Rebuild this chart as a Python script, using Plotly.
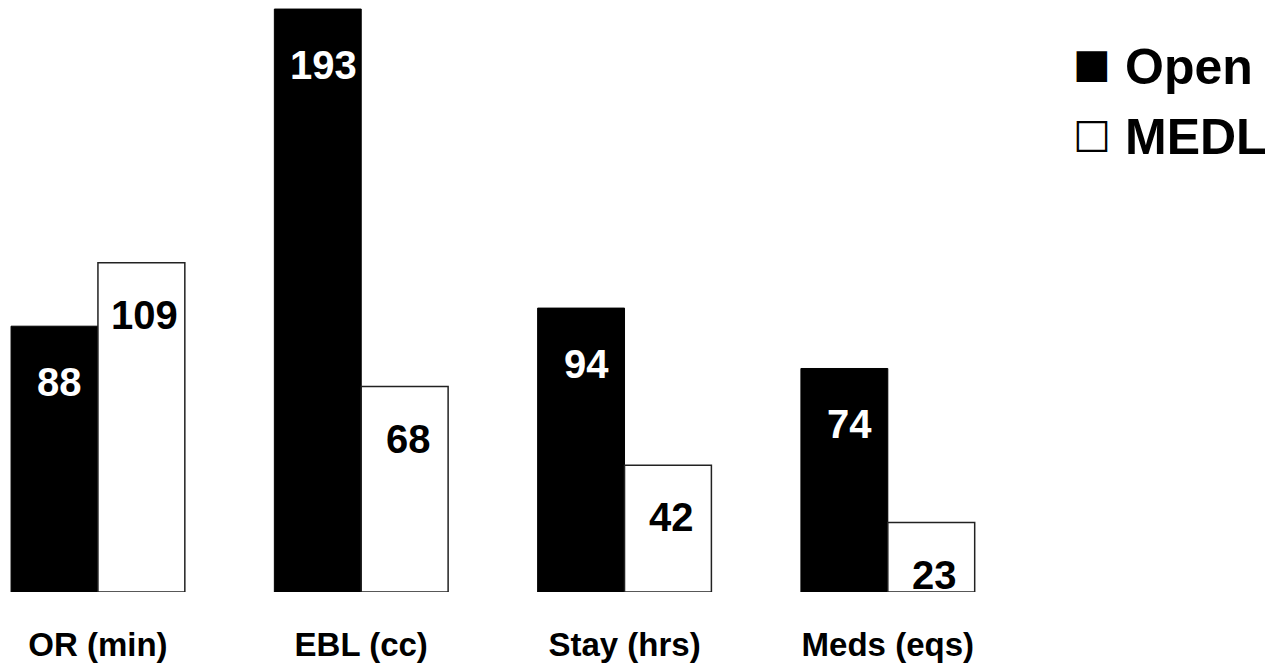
import plotly.graph_objects as go

categories = ["OR (min)", "EBL (cc)", "Stay (hrs)", "Meds (eqs)"]
open_vals = [88, 193, 94, 74]
medl_vals = [109, 68, 42, 23]
series_names = ["Open", "MEDL"]

FONT = "Liberation Sans, Arial, sans-serif"

fig = go.Figure()
fig.add_trace(go.Bar(
    x=categories, y=open_vals, name=series_names[0],
    marker=dict(color="black", line=dict(color="black", width=1)),
    showlegend=False, hoverinfo="x+y",
))
fig.add_trace(go.Bar(
    x=categories, y=medl_vals, name=series_names[1],
    marker=dict(color="white", line=dict(color="#222222", width=1.5)),
    showlegend=False, hoverinfo="x+y",
))

# value labels inside the bars, near the top
annotations = []
for i, c in enumerate(categories):
    annotations.append(dict(
        x=c, y=open_vals[i], xref="x", yref="y", text=f"<b>{open_vals[i]}</b>",
        showarrow=False, yshift=-56, xshift=-38,
        font=dict(family=FONT, size=40, color="white"),
    ))
    annotations.append(dict(
        x=c, y=medl_vals[i], xref="x", yref="y", text=f"<b>{medl_vals[i]}</b>",
        showarrow=False, yshift=-52, xshift=47,
        font=dict(family=FONT, size=40, color="black"),
    ))

# legend drawn as text: symbol + label
legend_rows = [("■", series_names[0], 0.887), ("□", series_names[1], 0.769)]
for sym, name, ypos in legend_rows:
    annotations.append(dict(
        x=0.8545, y=ypos, xref="paper", yref="paper", xanchor="center", yanchor="middle",
        text=sym, showarrow=False, yshift=4,
        font=dict(family="DejaVu Sans", size=40, color="black"),
    ))
    annotations.append(dict(
        x=0.879, y=ypos, xref="paper", yref="paper", xanchor="left", yanchor="middle",
        text=f"<b>{name}</b>", showarrow=False,
        font=dict(family=FONT, size=50, color="black"),
    ))

fig.update_layout(
    width=1278, height=664,
    margin=dict(l=0, r=0, t=0, b=72),
    paper_bgcolor="white", plot_bgcolor="white",
    barmode="group", bargap=0.34, bargroupgap=0,
    annotations=annotations,
    font=dict(family=FONT, color="black"),
)
fig.update_xaxes(
    range=[-0.372, 4.482], showgrid=False, zeroline=False, showline=False,
    ticks="", tickfont=dict(family=FONT, size=33, color="black"),
    tickvals=categories, ticktext=[f"<b>{c}</b>" for c in categories],
    ticklabelstandoff=30,
)
fig.update_yaxes(range=[0, 196], visible=False, showgrid=False, zeroline=False)

fig.write_html(
    "out.html",
    config={"displayModeBar": False},
    post_script="document.body.style.margin='0';document.body.style.overflow='hidden';",
)
